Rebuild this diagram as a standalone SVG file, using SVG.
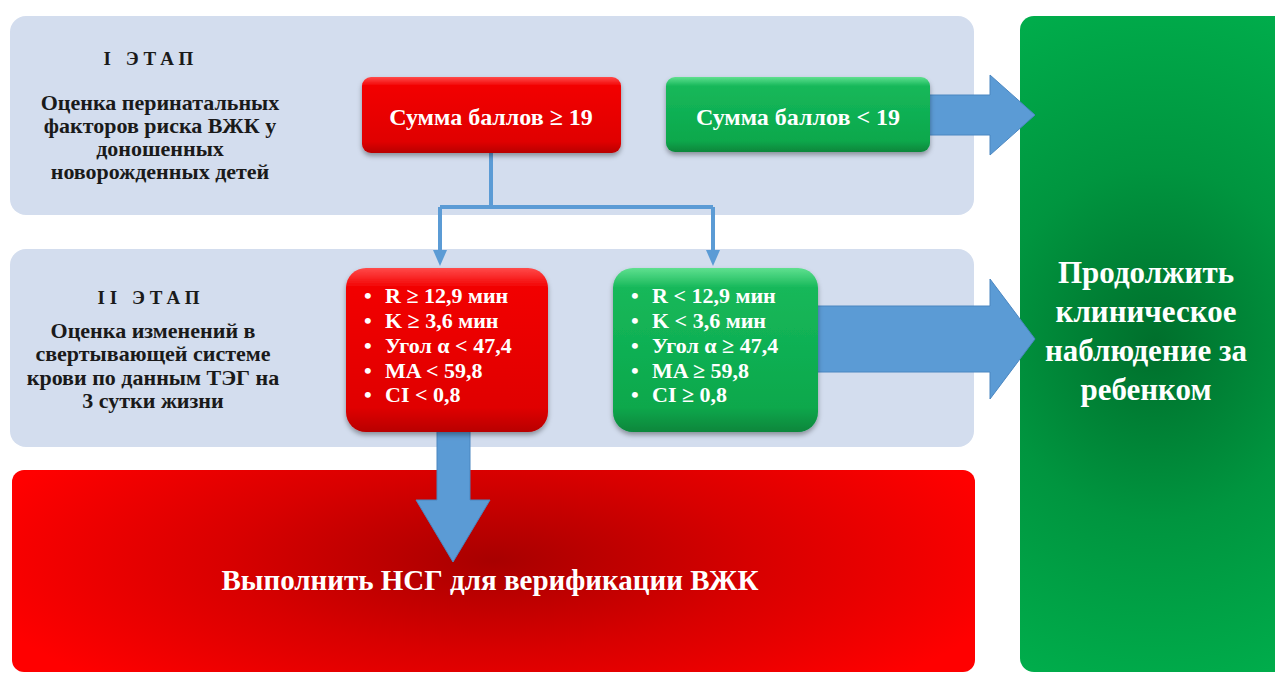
<svg xmlns="http://www.w3.org/2000/svg" width="1275" height="673" viewBox="0 0 1275 673">
<defs>
<style>
.panel{fill:#d3ddee}
.t{font-family:"Liberation Serif","DejaVu Serif",serif;font-weight:bold}
.dark{fill:#1a1a1a}
.w{fill:#ffffff}
.conn{stroke:#5b9bd5;stroke-width:4;fill:none}
.fat{fill:#5b9bd5;stroke:#4a86c0;stroke-width:1}
</style>
<linearGradient id="redBox" x1="0" y1="0" x2="0" y2="1">
<stop offset="0" stop-color="#ff4a4a"/>
<stop offset="0.12" stop-color="#f20000"/>
<stop offset="0.85" stop-color="#e00000"/>
<stop offset="1" stop-color="#b80000"/>
</linearGradient>
<linearGradient id="greenBox" x1="0" y1="0" x2="0" y2="1">
<stop offset="0" stop-color="#5fe08f"/>
<stop offset="0.12" stop-color="#16b85a"/>
<stop offset="0.85" stop-color="#0aa84c"/>
<stop offset="1" stop-color="#07863b"/>
</linearGradient>
<radialGradient id="redBig" cx="0.5" cy="0.45" r="0.55" gradientTransform="translate(0.5 0.45) scale(1 1.6) translate(-0.5 -0.45)">
<stop offset="0" stop-color="#a80000"/>
<stop offset="0.5" stop-color="#d80000"/>
<stop offset="1" stop-color="#ff0000"/>
</radialGradient>
<radialGradient id="greenBig" cx="0.5" cy="0.5" r="0.6" gradientTransform="translate(0.5 0.5) scale(2.2 1) translate(-0.5 -0.5)">
<stop offset="0" stop-color="#006f2c"/>
<stop offset="0.45" stop-color="#00953f"/>
<stop offset="1" stop-color="#00b24e"/>
</radialGradient>
<filter id="sh" x="-10%" y="-10%" width="120%" height="130%">
<feDropShadow dx="0" dy="3" stdDeviation="2.5" flood-color="#000" flood-opacity="0.35"/>
</filter>
</defs>

<g id="panel1"><rect class="panel" x="10" y="16" width="964" height="199" rx="16"/></g>
<g id="panel2"><rect class="panel" x="10" y="249" width="964" height="198" rx="16"/></g>

<g id="outcome-green">
<rect x="1020" y="16" width="270" height="656" rx="14" fill="url(#greenBig)"/>
<text class="t w" font-size="31" text-anchor="middle"><tspan x="1146" y="283">Продолжить</tspan><tspan x="1146" y="322">клиническое</tspan><tspan x="1146" y="361">наблюдение за</tspan><tspan x="1146" y="400">ребенком</tspan></text>
</g>

<g id="outcome-red">
<rect x="12" y="470" width="963" height="202" rx="12" fill="url(#redBig)"/>
<text class="t w" font-size="29" x="490" y="590" text-anchor="middle">Выполнить НСГ для верификации ВЖК</text>
</g>

<g id="stage1-label" class="t dark">
<text x="151" y="65" font-size="19" text-anchor="middle" letter-spacing="5">I ЭТАП</text>
<text font-size="22" text-anchor="middle"><tspan x="160" y="110">Оценка перинатальных</tspan><tspan x="160" y="133">факторов риска ВЖК у</tspan><tspan x="160" y="156">доношенных</tspan><tspan x="160" y="179">новорожденных детей</tspan></text>
</g>

<g id="stage2-label" class="t dark">
<text x="151" y="304" font-size="19" text-anchor="middle" letter-spacing="5">II ЭТАП</text>
<text font-size="22" text-anchor="middle"><tspan x="153" y="338">Оценка изменений в</tspan><tspan x="153" y="361">свертывающей системе</tspan><tspan x="153" y="385">крови по данным ТЭГ на</tspan><tspan x="153" y="408">3 сутки жизни</tspan></text>
</g>

<g id="connectors">
<polyline class="conn" points="491,153 491,207"/>
<polyline class="conn" points="440,207 713,207"/>
<polyline class="conn" points="440,207 440,252"/>
<polygon points="433,250 447,250 440,266" fill="#5b9bd5"/>
<polyline class="conn" points="713,207 713,252"/>
<polygon points="706,250 720,250 713,266" fill="#5b9bd5"/>
<polygon class="fat" points="925,95 990,95 990,75 1035,115 990,155 990,135 925,135"/>
<polygon class="fat" points="812,306 990,306 990,279 1035,339 990,399 990,372 812,372"/>
<polygon class="fat" points="437,428 470,428 470,500 490,500 453,562 416,500 437,500"/>
</g>

<g id="box-sum-high">
<rect x="362" y="77" width="259" height="76" rx="9" fill="url(#redBox)" filter="url(#sh)"/>
<text class="t w" font-size="24" x="491" y="125" text-anchor="middle">Сумма баллов ≥ 19</text>
</g>

<g id="box-sum-low">
<rect x="666" y="77" width="264" height="75" rx="9" fill="url(#greenBox)" filter="url(#sh)"/>
<text class="t w" font-size="24" x="798" y="125" text-anchor="middle">Сумма баллов &lt; 19</text>
</g>

<g id="box-teg-bad">
<rect x="346" y="268" width="202" height="164" rx="20" fill="url(#redBox)" filter="url(#sh)"/>
<g class="t w" font-size="22">
<text x="364" y="303">•</text><text x="385" y="303">R ≥ 12,9 мин</text>
<text x="364" y="328">•</text><text x="385" y="328">K ≥ 3,6 мин</text>
<text x="364" y="353">•</text><text x="385" y="353">Угол α &lt; 47,4</text>
<text x="364" y="378">•</text><text x="385" y="378">MA &lt; 59,8</text>
<text x="364" y="402">•</text><text x="385" y="402">CI &lt; 0,8</text>
</g>
</g>

<g id="box-teg-good">
<rect x="613" y="268" width="205" height="164" rx="20" fill="url(#greenBox)" filter="url(#sh)"/>
<g class="t w" font-size="22">
<text x="631" y="303">•</text><text x="652" y="303">R &lt; 12,9 мин</text>
<text x="631" y="328">•</text><text x="652" y="328">K &lt; 3,6 мин</text>
<text x="631" y="353">•</text><text x="652" y="353">Угол α ≥ 47,4</text>
<text x="631" y="378">•</text><text x="652" y="378">MA ≥ 59,8</text>
<text x="631" y="402">•</text><text x="652" y="402">CI ≥ 0,8</text>
</g>
</g>
</svg>
